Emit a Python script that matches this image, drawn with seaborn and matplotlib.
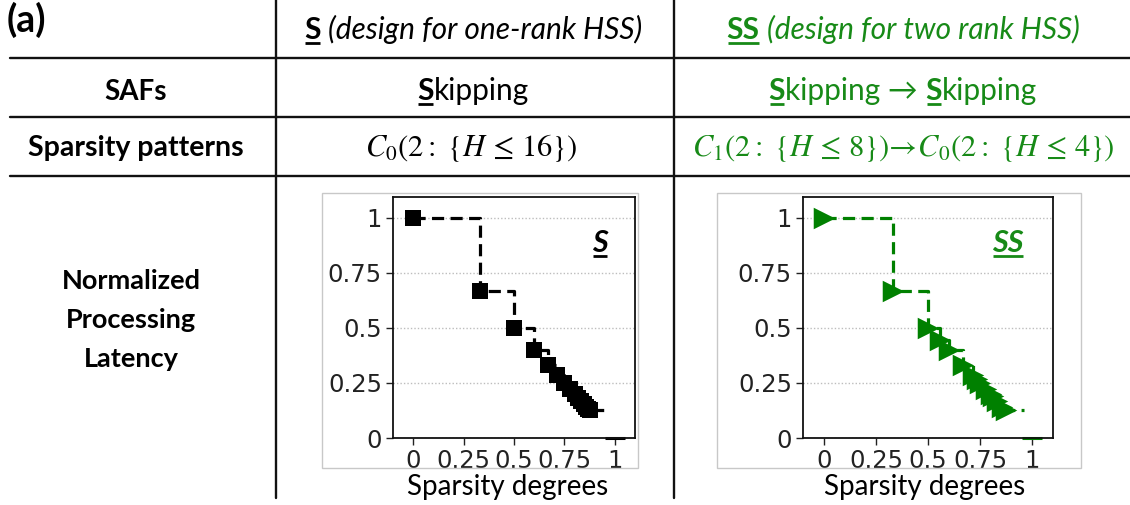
import numpy as np
import pandas as pd
import matplotlib
matplotlib.use("Agg")
import matplotlib.pyplot as plt
import seaborn as sns
from matplotlib.lines import Line2D
from matplotlib.patches import Rectangle

# ---------------- data ----------------
s_sparsity = [0, 0.333, 0.5, 0.6, 0.667, 0.714, 0.75, 0.778, 0.8, 0.818, 0.833, 0.846, 0.857, 0.867, 0.875]
s_latency = [1, 0.667, 0.5, 0.4, 0.333, 0.286, 0.25, 0.222, 0.2, 0.182, 0.167, 0.154, 0.143, 0.133, 0.125]
ss_sparsity = [0, 0.333, 0.5, 0.556, 0.6, 0.667, 0.714, 0.733, 0.75, 0.778, 0.8, 0.81, 0.833, 0.857, 0.875]
ss_latency = [1, 0.667, 0.5, 0.444, 0.4, 0.333, 0.286, 0.267, 0.25, 0.222, 0.2, 0.19, 0.167, 0.143, 0.125]
tail_sparsity = 0.96          # where the last dashed step ends
end_sparsity, end_latency = 1.0, 0.0   # terminal point

tick_values = [0, 0.25, 0.5, 0.75, 1]
tick_labels = ["0", "0.25", "0.5", "0.75", "1"]

BLACK = "#000000"
GREEN_TXT = "#178a17"
GREEN = "#008000"

sns.set_style("white")
plt.rcParams["font.family"] = ["Lato", "DejaVu Sans"]
plt.rcParams["mathtext.fontset"] = "stix"

W, H = 1130, 505
fig = plt.figure(figsize=(W / 100, H / 100), dpi=100)
fig.patch.set_facecolor("white")


def fx(x):
    return x / W


def fy(y):
    return 1 - y / H


# ---------- table lines ----------
for y in [58, 117, 176]:
    fig.add_artist(Line2D([fx(10), fx(1130)], [fy(y), fy(y)], color="#111111", lw=1.7))
for x in [276, 674]:
    fig.add_artist(Line2D([fx(x), fx(x)], [fy(0), fy(498)], color="#111111", lw=1.7))

# ---------- plots ----------
def make_plot(rect_ax, rect_box, xs, ys, color, marker, msize):
    fig.add_artist(Rectangle((fx(rect_box[0]), fy(rect_box[3])),
                             fx(rect_box[2] - rect_box[0]), (rect_box[3] - rect_box[1]) / H,
                             fill=False, edgecolor="#c8c8c8", lw=1.0))
    ax = fig.add_axes([fx(rect_ax[0]), fy(rect_ax[3]),
                       fx(rect_ax[2] - rect_ax[0]), (rect_ax[3] - rect_ax[1]) / H])
    df = pd.DataFrame({"x": list(xs) + [tail_sparsity], "y": list(ys) + [ys[-1]]})
    sns.lineplot(data=df, x="x", y="y", ax=ax, color=color, lw=2.3,
                 drawstyle="steps-post", estimator=None, sort=False)
    ax.lines[-1].set_linestyle((0, (3.8, 2)))
    sns.scatterplot(x=xs, y=ys, ax=ax, color=color, marker=marker, s=msize ** 2,
                    edgecolor=color, linewidth=0, zorder=3)
    ax.plot([end_sparsity], [end_latency], marker="_", markersize=14, mew=2.2,
            color=color, linestyle="none", clip_on=False)
    ax.set_xlim(-0.1, 1.1)
    ax.set_ylim(0, 1.095)
    ax.set_xticks(tick_values)
    ax.set_xticklabels(tick_labels)
    ax.set_yticks(tick_values)
    ax.set_yticklabels(tick_labels)
    ax.tick_params(direction="out", length=5, width=1, labelsize=17.5, pad=3,
                   colors="#222222", bottom=True, left=True,
                   labelfontfamily="DejaVu Sans")
    ax.yaxis.grid(True, linestyle=(0, (1, 1.5)), color="#bdbdbd", lw=1)
    ax.xaxis.grid(False)
    ax.set_xlabel("")
    ax.set_ylabel("")
    for sp in ax.spines.values():
        sp.set_color("#111111")
        sp.set_linewidth(1.3)
    return ax


ax1 = make_plot((393, 197, 635, 438), (322, 193, 638, 468), s_sparsity, s_latency, BLACK, "s", 11.5)
ax2 = make_plot((803, 197, 1053, 438), (717, 193, 1081, 468), ss_sparsity, ss_latency, GREEN, ">", 15.5)

fig.canvas.draw()
renderer = fig.canvas.get_renderer()


def rich(xc, yb, runs, size, color, ul_off=4):
    objs = []
    for text, weight, style, ul in runs:
        t = fig.text(0, fy(yb), text, fontsize=size, fontweight=weight, fontstyle=style,
                     color=color, ha="left", va="baseline")
        bb = t.get_window_extent(renderer=renderer)
        objs.append((t, bb.width, ul))
    total = sum(w for _, w, _ in objs)
    x = xc - total / 2
    for t, w, ul in objs:
        t.set_x(fx(x))
        if ul:
            fig.add_artist(Line2D([fx(x + 1), fx(x + w - 1)], [fy(yb + ul_off), fy(yb + ul_off)],
                                  color=color, lw=2.0, solid_capstyle="butt"))
        x += w


# header row
fig.text(fx(7), fy(2), "(a)", fontsize=27, fontweight="bold", ha="left", va="top", color=BLACK)
rich(473, 39, [("S", "bold", "normal", True), (" (design for one-rank HSS)", "normal", "italic", False)], 21.5, BLACK)
rich(903, 39, [("SS", "bold", "normal", True), (" (design for two rank HSS)", "normal", "italic", False)], 21.5, GREEN_TXT)

# SAFs row
rich(136, 100, [("SAFs", "bold", "normal", False)], 20, BLACK)
rich(473, 100, [("S", "bold", "normal", True), ("kipping", "normal", "normal", False)], 21.5, BLACK)
rich(903, 100, [("S", "bold", "normal", True), ("kipping \u2192 ", "normal", "normal", False),
                ("S", "bold", "normal", True), ("kipping", "normal", "normal", False)], 21.5, GREEN_TXT)

# Sparsity patterns row
rich(136, 156, [("Sparsity patterns", "bold", "normal", False)], 20.5, BLACK)
fig.text(fx(471), fy(156), r"$C_0(2{:}\ \{H\,\leq\,16\})$", fontsize=22, ha="center",
         va="baseline", color=BLACK)
fig.text(fx(903), fy(156), r"$C_1(2{:}\ \{H\,\leq\,8\})\!\rightarrow\! C_0(2{:}\ \{H\,\leq\,4\})$",
         fontsize=22, ha="center", va="baseline", color=GREEN_TXT)

# left labels
for txt, yb in [("Normalized", 289), ("Processing", 328), ("Latency", 367)]:
    rich(131, yb, [(txt, "bold", "normal", False)], 19.5, BLACK)

# x labels
rich(508, 495, [("Sparsity degrees", "normal", "normal", False)], 20, BLACK)
rich(925, 495, [("Sparsity degrees", "normal", "normal", False)], 20, BLACK)

# in-plot labels
rich(600, 252, [("S", "bold", "italic", True)], 22, BLACK)
rich(1008, 252, [("SS", "bold", "italic", True)], 22, GREEN_TXT)

fig.savefig("out.png", dpi=100, facecolor="white")
